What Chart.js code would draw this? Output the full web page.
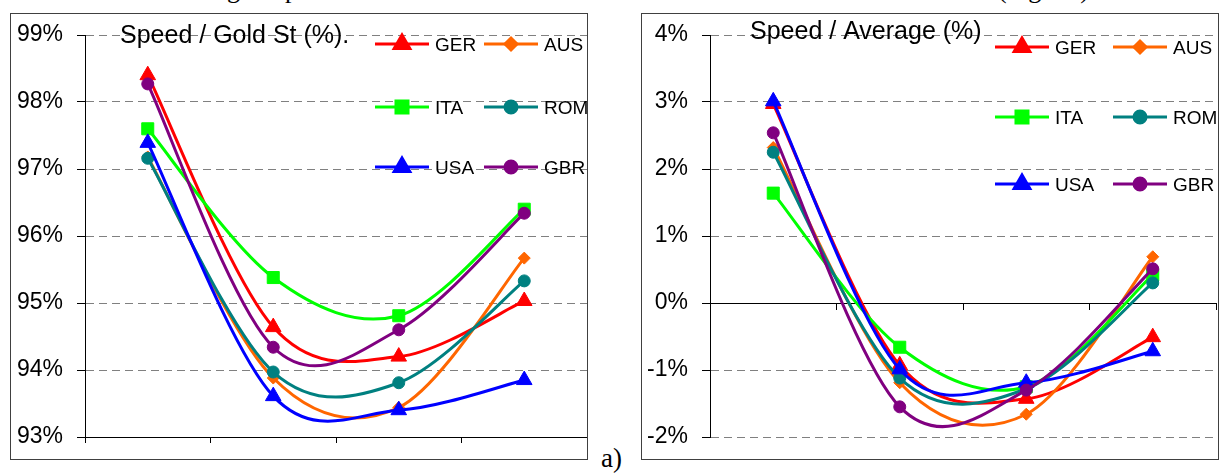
<!doctype html>
<html lang="en">
  <head>
    <meta charset="utf-8">
    <script src="https://cdn.jsdelivr.net/npm/chart.js@4.4.1/dist/chart.umd.min.js"></script>
    <title>Speed</title>
    <style>
      body { margin: 0; background: #fff; width: 1219px; height: 474px; overflow: hidden; position: relative; }
      .box { position: absolute; top: 13px; height: 445px; border: 1px solid #404040; background: #fff; }
      .cap { position: absolute; font-family: "Liberation Serif", serif; color: #000; white-space: nowrap; }
    </style>
  </head>
  <body>
    <div class="cap" style="left:152px; top:-25px; font-size:26px;">Ranking of speed</div>
    <div class="cap" style="left:998px; top:-25px; font-size:26px;">(Fig. 10)</div>

    <div class="box" style="left:10px; width:576px;">
      <canvas id="goldChart" width="576" height="445"></canvas>
    </div>
    <div class="box" style="left:641px; width:576px;">
      <canvas id="avgChart" width="576" height="445"></canvas>
    </div>

    <div class="cap" style="left:601px; top:443px; font-size:27px;">a)</div>

  <script>

    // categories (no labels shown on the x axis)
    const categories = ['1', '2', '3', '4'];
    const countries = ['GER', 'AUS', 'ITA', 'ROM', 'USA', 'GBR'];

    // Speed / Gold St (%)
    const gerGold = [98.40, 94.64, 94.20, 95.03];
    const ausGold = [97.18, 93.88, 93.44, 95.67];
    const itaGold = [97.60, 95.38, 94.81, 96.40];
    const romGold = [97.16, 93.97, 93.81, 95.33];
    const usaGold = [97.39, 93.61, 93.40, 93.85];
    const gbrGold = [98.27, 94.34, 94.60, 96.34];

    // Speed / Average (%)
    const gerAvg = [2.97, -0.93, -1.43, -0.51];
    const ausAvg = [2.32, -1.19, -1.66, 0.69];
    const itaAvg = [1.64, -0.66, -1.25, 0.42];
    const romAvg = [2.25, -1.12, -1.28, 0.30];
    const usaAvg = [3.01, -0.99, -1.19, -0.72];
    const gbrAvg = [2.54, -1.55, -1.30, 0.51];

    const goldRange = [93, 99];
    const avgRange = [-2, 4];

    const colors = ['#ff0000', '#ff6600', '#00ff00', '#008080', '#0000ff', '#800080'];
    const markers = ['triangle', 'rectRot', 'rect', 'circle', 'triangle', 'circle'];
    const markerSize = [9, 6, 8.5, 6, 9, 6];

    const FONT = '"Liberation Sans", Arial, sans-serif';

    function makeSets(series){
      return series.map((data, i) => ({
        label: countries[i],
        data: data,
        borderColor: colors[i],
        backgroundColor: colors[i],
        borderWidth: 3,
        pointStyle: markers[i],
        pointRadius: markerSize[i],
        pointBorderWidth: 1,
        pointBackgroundColor: colors[i],
        tension: 0.4,
        order: series.length - i
      }));
    }

    // excel style smoothing: uniform catmull-rom control points
    const excelSmooth = {
      id: 'excelSmooth',
      beforeDatasetDraw(chart, args){
        const meta = args.meta;
        if (meta.dataset && meta.dataset.updateControlPoints) {
          meta.dataset.updateControlPoints(chart.chartArea, meta.iScale.axis);
        }
        const pts = meta.data;
        pts.forEach((p, i) => {
          let prev = pts[Math.max(i - 1, 0)];
          let next = pts[Math.min(i + 1, pts.length - 1)];
          let dx = (next.x - prev.x) / 6, dy = (next.y - prev.y) / 6;
          p.cp1x = p.x - dx; p.cp1y = p.y - dy;
          p.cp2x = p.x + dx; p.cp2y = p.y + dy;
        });
      }
    };

    // title + legend drawn inside the plot, like the original
    const overlay = {
      id: 'overlay',
      afterDraw(chart, args, opts){
        const ctx = chart.ctx;
        ctx.save();
        ctx.fillStyle = '#000';
        ctx.font = '25px ' + FONT;
        ctx.textBaseline = 'alphabetic';
        ctx.fillText(opts.title, opts.titleX, opts.titleY);

        ctx.font = '19px ' + FONT;
        chart.data.datasets.forEach((ds, i) => {
          let x = opts.cols[i % 2];
          let y = opts.rows[Math.floor(i / 2)];
          ctx.strokeStyle = ds.borderColor;
          ctx.lineWidth = 3;
          ctx.beginPath();
          ctx.moveTo(x, y);
          ctx.lineTo(x + 54, y);
          ctx.stroke();
          ctx.fillStyle = ds.borderColor;
          Chart.helpers.drawPoint(ctx, {pointStyle: ds.pointStyle, radius: ds.pointRadius, borderWidth: 1}, x + 27, y);
          ctx.fillStyle = '#000';
          ctx.fillText(ds.label, x + 60, y + 6.5);
        });
        ctx.restore();
      }
    };

    function yScale(range, axisWidth){
      return {
        min: range[0],
        max: range[1],
        afterFit: s => { s.width = axisWidth; s.paddingTop = 0; s.paddingBottom = 0; },
        border: { color: '#000', width: 1, dash: [8, 5] },
        grid: {
          color: '#808080',
          tickColor: '#000',
          tickBorderDash: [],
          tickLength: 8
        },
        ticks: {
          stepSize: 1,
          padding: 14,
          color: '#000',
          font: { family: FONT, size: 23 },
          callback: v => v + '%'
        }
      };
    }

    function xScale(pos){
      return {
        position: pos,
        offset: true,
        afterFit: s => { s.height = 22; s.paddingLeft = 0; s.paddingRight = 0; },
        border: { color: '#000', width: 1 },
        grid: { offset: true, drawOnChartArea: false, tickLength: 6, tickColor: '#000' },
        ticks: { display: false }
      };
    }

    let goldChart = new Chart(document.getElementById('goldChart').getContext('2d'), {
      type: 'line',
      data: {
        labels: categories,
        datasets: makeSets([gerGold, ausGold, itaGold, romGold, usaGold, gbrGold])
      },
      options: {
        responsive: false,
        animation: false,
        layout: { autoPadding: false, padding: { top: 21, right: 0, bottom: 0, left: 0 } },
        scales: {
          x: xScale('bottom'),
          y: yScale(goldRange, 74)
        },
        plugins: {
          legend: { display: false },
          tooltip: { enabled: false },
          overlay: { title: 'Speed / Gold St (%).', titleX: 109, titleY: 29, cols: [364, 473], rows: [30, 93, 153] }
        }
      },
      plugins: [excelSmooth, overlay]
    });

    let avgChart = new Chart(document.getElementById('avgChart').getContext('2d'), {
      type: 'line',
      data: {
        labels: categories,
        datasets: makeSets([gerAvg, ausAvg, itaAvg, romAvg, usaAvg, gbrAvg])
      },
      options: {
        responsive: false,
        animation: false,
        layout: { autoPadding: false, padding: { top: 21, right: 2, bottom: 22, left: 0 } },
        scales: {
          x: xScale({ y: 0 }),
          y: yScale(avgRange, 68)
        },
        plugins: {
          legend: { display: false },
          tooltip: { enabled: false },
          overlay: { title: 'Speed / Average (%)', titleX: 108, titleY: 25, cols: [353, 471], rows: [33, 103, 170] }
        }
      },
      plugins: [excelSmooth, overlay]
    });

  </script>
  </body>
</html>
